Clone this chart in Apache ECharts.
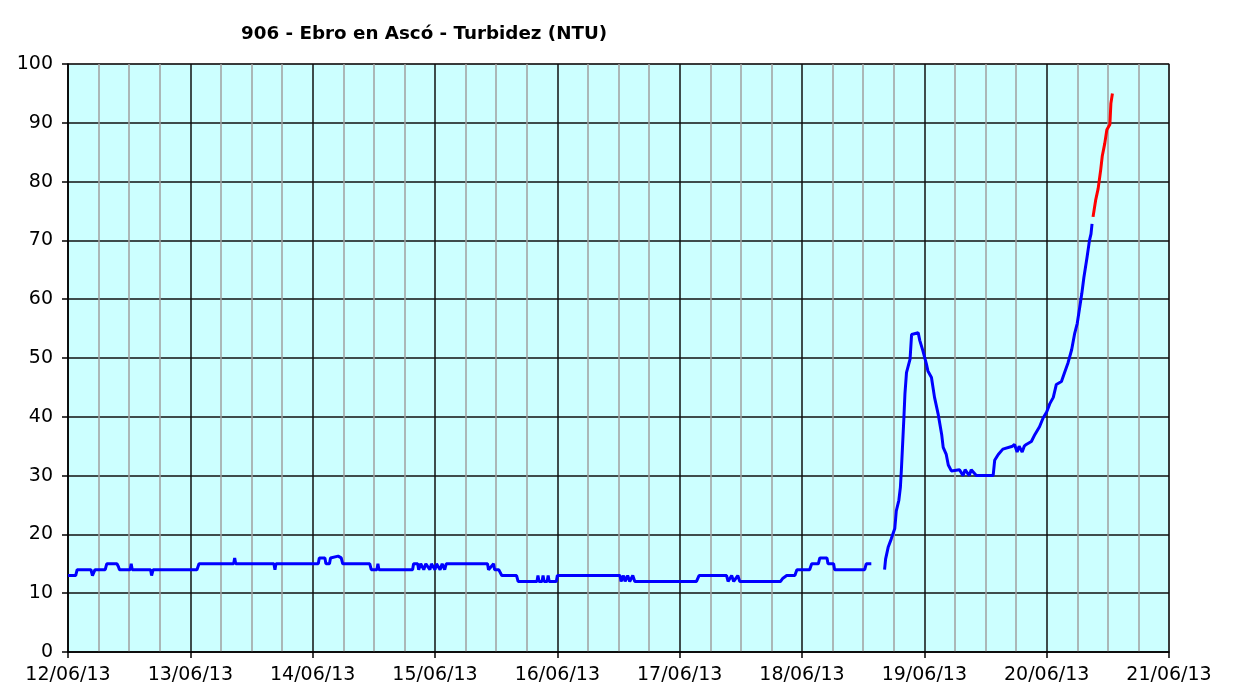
<!DOCTYPE html>
<html>
<head>
<meta charset="utf-8">
<title>906 - Ebro en Ascó - Turbidez (NTU)</title>
<script src="https://cdn.jsdelivr.net/npm/echarts@6/dist/echarts.min.js"></script>
<style>
  html, body { margin: 0; padding: 0; background: #ffffff; }
  #chart { width: 1251px; height: 688px; }
</style>
</head>
<body>
<div id="chart"></div>
<script>
// hours since 12/06/13 00:00 and turbidity (NTU)
const blueHours = [
  0, 1.5, 1.8, 4.5, 4.8, 5.3, 7.3, 7.6, 9.6, 9.9, 10.1, 12.2, 12.4, 12.6, 16.2, 16.4, 16.7,
  25.3, 25.7, 32.5, 32.7, 32.9, 40.4, 40.6, 40.8, 49.1, 49.3, 50.4, 50.6, 51.3, 51.5, 53.0, 53.6, 53.9,
  59.2, 59.5, 60.6, 60.8, 61.0, 67.6, 67.8, 68.6, 68.8, 69.2, 69.8, 70.2, 71.0, 71.3, 72.0, 72.3, 73.0, 73.4, 73.9, 74.2,
  82.3, 82.5, 83.5, 83.7, 84.5, 85.1, 88.0, 88.3, 92.0, 92.2, 92.4, 93.0, 93.2, 93.4, 94.0, 94.2, 94.4, 95.8, 96.0,
  108.3, 108.5, 109.0, 109.3, 109.8, 110.2, 110.8, 111.2, 123.3, 123.8, 129.2, 129.5, 130.2, 130.6, 131.4, 131.8,
  139.8, 140.2, 141.0, 142.6, 143.0, 145.5, 145.9, 147.2, 147.5, 148.9, 149.1, 150.2, 150.4, 156.3, 156.6, 157.6,
  158.5,
  160.2, 160.4, 160.9, 161.5, 162.2, 162.5, 163.0, 163.3, 163.5, 164.0, 164.2, 164.5, 165.2, 165.5, 166.8,
  167.1, 167.7, 168.4, 168.7, 169.4, 170.0, 170.7, 171.4, 171.7, 172.3, 172.7, 173.3, 174.9, 175.6, 176.0,
  176.8, 177.2, 178.2, 181.5, 181.8, 182.5, 183.4, 185.3, 185.7, 186.2, 186.6, 187.2, 187.6, 188.0, 189.0,
  189.7, 190.6, 191.3, 192.0, 192.6, 193.3, 193.9, 194.9, 195.5, 196.2, 196.9, 197.5, 198.0, 198.5, 198.9,
  199.3, 199.9, 200.4, 200.7, 200.9
];
const blueValues = [
  13, 13, 14, 14, 13, 14, 14, 15, 15, 14.5, 14, 14, 15, 14, 14, 13, 14,
  14, 15, 15, 16, 15, 15, 14, 15, 15, 16, 16, 15, 15, 16, 16.3, 16, 15,
  15, 14, 14, 15, 14, 14, 15, 15, 14, 15, 14, 15, 14, 15, 14, 15, 14, 15, 14, 15,
  15, 14, 15, 14, 14, 13, 13, 12, 12, 13, 12, 12, 13, 12, 12, 13, 12, 12, 13,
  13, 12, 13, 12, 13, 12, 13, 12, 12, 13, 13, 12, 13, 12, 13, 12,
  12, 12.5, 13, 13, 14, 14, 15, 15, 16, 16, 15, 15, 14, 14, 15, 15,
  null,
  14, 15.8, 17.8, 19.2, 21, 24, 25.8, 28, 31, 40, 44, 47.5, 49.8, 54, 54.3,
  53, 51.3, 49, 47.8, 46.7, 43.3, 40.5, 37, 34.8, 33.6, 31.8, 30.8, 31, 30, 31,
  30, 31, 30, 30, 32.6, 33.6, 34.5, 35, 35.3, 34, 35, 34, 35, 35.3, 35.8,
  37, 38.3, 39.8, 40.8, 42.2, 43.3, 45.5, 46, 47.5, 49.2, 51.4, 54.2, 55.9, 58.7, 61,
  63.7, 67, 70, 71.1, 72.8
];
const redHours = [201.1, 201.6, 202.1, 202.6, 202.9, 203.4, 203.8, 204.4, 204.6, 204.9];
const redValues = [74, 76.8, 78.8, 82, 84.3, 86.5, 88.8, 89.7, 93.3, 95];

const dayLabels = ["12/06/13", "13/06/13", "14/06/13", "15/06/13", "16/06/13",
  "17/06/13", "18/06/13", "19/06/13", "20/06/13", "21/06/13"];
const yTicks = [0, 10, 20, 30, 40, 50, 60, 70, 80, 90, 100];

const pairs = (xs, ys) => xs.map((x, i) => [x, ys[i]]);

const chart = echarts.init(document.getElementById("chart"));
chart.setOption({
  animation: false,
  backgroundColor: "#ffffff",
  title: {
    text: "906 - Ebro en Ascó - Turbidez (NTU)",
    left: 236,
    top: 20,
    textStyle: { fontFamily: "DejaVu Sans", fontSize: 18.3, fontWeight: "bold", color: "#000" },
  },
  grid: {
    left: 68,
    right: 82,
    top: 64,
    bottom: 36,
    show: true,
    backgroundColor: "#ccffff",
    borderColor: "#a0a0a0",
    borderWidth: 1.5,
  },
  xAxis: {
    type: "value",
    min: 0,
    max: 216,
    interval: 24,
    axisLine: { onZero: false, lineStyle: { color: "#000", width: 1.5 } },
    axisTick: { show: true, length: 6, lineStyle: { color: "#000", width: 1.5 } },
    axisLabel: {
      margin: 14,
      color: "#000",
      fontFamily: "DejaVu Sans",
      fontSize: 19,
      formatter: (value) => dayLabels[Math.round(value / 24)] ?? "",
    },
    splitLine: { show: true, lineStyle: { color: "#111", width: 1.5 } },
    minorTick: { show: false, splitNumber: 4 },
    minorSplitLine: { show: true, lineStyle: { color: "#a0a0a0", width: 1.5 } },
  },
  yAxis: {
    type: "value",
    min: yTicks[0],
    max: yTicks[yTicks.length - 1],
    interval: 10,
    axisLine: { show: true, lineStyle: { color: "#000", width: 1.5 } },
    axisTick: { show: true, length: 6, lineStyle: { color: "#000", width: 1.5 } },
    axisLabel: {
      margin: 15,
      color: "#000",
      fontFamily: "DejaVu Sans",
      fontSize: 19,
    },
    splitLine: { show: true, lineStyle: { color: "#111", width: 1.5 } },
  },
  series: [
    {
      name: "blue",
      type: "line",
      data: pairs(blueHours, blueValues),
      showSymbol: false,
      symbol: "none",
      connectNulls: false,
      lineStyle: { color: "#0000ff", width: 3 },
      z: 3,
    },
    {
      name: "red",
      type: "line",
      data: pairs(redHours, redValues),
      showSymbol: false,
      symbol: "none",
      lineStyle: { color: "#ff0000", width: 3 },
      z: 4,
    },
  ],
});
</script>
</body>
</html>
